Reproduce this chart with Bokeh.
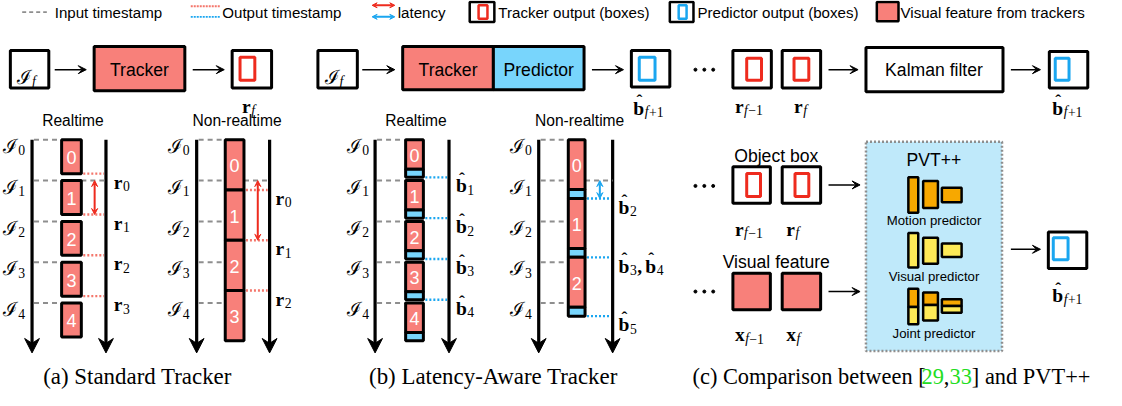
from bokeh.plotting import figure
from bokeh.models import Range1d, Arrow, VeeHead
from bokeh.core.properties import value
from bokeh.embed import file_html
from bokeh.resources import INLINE

# ---------------- data ----------------
legend_texts = ["Input timestamp", "Output timestamp", "latency",
                "Tracker output (boxes)", "Predictor output (boxes)",
                "Visual feature from trackers"]
frames = [0, 1, 2, 3, 4]
frame_names = ["0", "1", "2", "3", "4"]

# (a) standard tracker (times in frame intervals)
a_rt_start = [0, 1, 2, 3, 4]
a_rt_track = [0.83, 0.83, 0.83, 0.83, 0.83]
a_rt_out_names = [["0"], ["1"], ["2"], ["3"]]
a_nrt_start = [0, 1.23, 2.46, 3.69]
a_nrt_track = [1.23, 1.23, 1.23, 1.23]
a_nrt_out_names = [["0"], ["1"], ["2"]]

# (b) latency-aware tracker
b_rt_start = [0, 1, 2, 3, 4]
b_rt_track = [0.72, 0.72, 0.72, 0.72, 0.72]
b_rt_pred = [0.2, 0.2, 0.2, 0.2, 0.2]
b_rt_out_names = [["1"], ["2"], ["3"], ["4"]]
b_nrt_start = [0, 1.44, 2.88]
b_nrt_track = [1.22, 1.22, 1.22]
b_nrt_pred = [0.22, 0.22, 0.22]
b_nrt_out_names = [["2"], ["3", "4"], ["5"]]

# latency arrows (from, to) in frame intervals
a_rt_latency = (1.0, 1.83)
a_nrt_latency = (1.0, 2.46)
b_nrt_latency = (1.0, 1.44)

panel_titles = ["Realtime", "Non-realtime", "Realtime", "Non-realtime"]
captions = ["(a) Standard Tracker", "(b) Latency-Aware Tracker"]
caption_c = [("(c) Comparison between [", "black"), ("29", "green"), (",", "black"),
             ("33", "green"), ("] and PVT++", "black")]
predictor_names = ["Motion predictor", "Visual predictor", "Joint predictor"]

# ---------------- style ----------------
SANS = "Liberation Sans"
SERIF = "Liberation Serif"
SCRIPT = "DejaVu Serif"
K = 0.975
SALMON = "#F8807A"
LBLUE = "#78D5FC"
RED = "#EE2B1E"
BLUE = "#1AA6F0"
DOTRED = "#F4766B"
GREY = "#8E8E8E"
PVTBG = "#BFE9FA"
ORANGE = "#F7A800"
YELLOW = "#FDEA57"
GREEN = "#22DD22"

p = figure(width=1106, height=390, x_range=Range1d(0, 1122), y_range=Range1d(406, 0),
           output_backend="svg", toolbar_location=None, min_border=0,
           x_axis_location=None, y_axis_location=None)
p.grid.visible = False
p.outline_line_color = None
p.background_fill_color = "white"
p.border_fill_color = "white"


def txt(x, y, s, size, font=SANS, color="black", align="left", baseline="middle", style="normal"):
    p.text(x=[x], y=[y], text=[s], text_font=value(font), text_font_size=f"{size * K:.1f}px",
           text_color=color, text_align=align, text_baseline=baseline, text_font_style=style)


def rect(l, r, t, b, fill=None, line="black", lw=3.0, dash="solid"):
    p.quad(left=[l], right=[r], top=[t], bottom=[b], fill_color=fill,
           line_color=line, line_width=lw, line_dash=dash)


def seg(x0, y0, x1, y1, color="black", lw=2.0, dash="solid"):
    p.segment(x0=[x0], y0=[y0], x1=[x1], y1=[y1], line_color=color, line_width=lw, line_dash=dash)


def arrow(x0, y0, x1, y1, color="black", lw=1.5, size=8, both=False):
    head = VeeHead(size=size, line_color=color, fill_color=color, line_width=1)
    start = VeeHead(size=size, line_color=color, fill_color=color, line_width=1) if both else None
    p.add_layout(Arrow(end=head, start=start, x_start=x0, y_start=y0, x_end=x1, y_end=y1,
                       line_color=color, line_width=lw))


BASEW = {"r": 0.444, "b": 0.556, "x": 0.5}


def mlab(x, y, base, sub, size=20, subsize=14, hat=False):
    """bold serif base letter with subscript; (x, y) = left, baseline"""
    bw = BASEW[base] * size
    txt(x, y, base, size, SERIF, baseline="alphabetic", style="bold")
    if hat:
        txt(x + bw / 2 + 0.5, y - 8, "\u02c6", size * 0.9, SERIF, align="center", baseline="alphabetic",
            style="bold")
    sx = x + bw + 0.5
    for s in sub:
        if s == "f":
            txt(sx, y + 4, s, subsize, SERIF, baseline="alphabetic", style="italic")
            sx += 0.3 * subsize
        else:
            txt(sx, y + 4, s, subsize, SERIF, baseline="alphabetic")
            sx += 0.53 * subsize * len(s)
    return sx


def ilab(x, y, sub):
    txt(x, y, "\u2110", 20, SCRIPT, baseline="alphabetic")
    txt(x + 15, y + 4, sub, 14, SERIF, baseline="alphabetic",
        style=("italic" if sub == "f" else "normal"))


def dots(x, y):
    p.scatter(x=[x, x + 9, x + 18], y=[y, y, y], size=3, color="black")


# ---------------- legend ----------------
LY = 12
seg(22, LY, 47, LY, GREY, 1.8, "4 3")
txt(55, LY, legend_texts[0], 15.5)
seg(193, 6, 223, 6, DOTRED, 1.8, "2 1")
seg(193, 17, 223, 17, BLUE, 1.8, "2 1")
txt(225, LY, legend_texts[1], 15.5)
arrow(377, 5, 400, 5, RED, 2, 5, True)
arrow(377, 17, 400, 17, BLUE, 2, 5, True)
txt(403, LY, legend_texts[2], 15.5)
rect(476, 501, 1.5, 22.5, "white", "black", 2.5)
rect(485, 494, 5, 19, None, RED, 2.5)
txt(505, LY, legend_texts[3], 15.5)
rect(679, 703, 1.5, 22.5, "white", "black", 2.5)
rect(688, 696, 5, 19, None, BLUE, 2.5)
txt(707, LY, legend_texts[4], 15.5)
rect(889, 911, 1.5, 21.5, SALMON, "black", 2.5)
txt(913, LY, legend_texts[5], 15.5)

# ---------------- top row ----------------
TOPY = 72
# (a)
rect(10, 49, 52, 91, "white")
ilab(17, 80, "f")
arrow(55, TOPY, 87, TOPY)
rect(95, 187, 48, 94, SALMON)
txt(141, TOPY, "Tracker", 18, align="center")
arrow(195, TOPY, 227, TOPY)
rect(235, 275, 52, 91, "white")
rect(243, 258, 59, 83, None, RED, 3)
mlab(245, 110, "r", ["f"])
# (b)
rect(322, 362, 52, 91, "white")
ilab(329, 80, "f")
arrow(367, TOPY, 400, TOPY)
rect(408, 500, 48, 93, SALMON)
rect(500, 592, 48, 93, LBLUE)
txt(454, TOPY, "Tracker", 18, align="center")
txt(546, TOPY, "Predictor", 18, align="center")
arrow(600, TOPY, 632, TOPY)
rect(640, 679, 52, 90, "white")
rect(648, 664, 59, 83, None, BLUE, 3)
mlab(642, 112, "b", ["f", "+1"], hat=True)
# (c) top
dots(705, TOPY)
rect(743, 782, 52, 91, "white")
rect(757, 772, 60, 83, None, RED, 3)
rect(793, 832, 52, 91, "white")
rect(805, 820, 60, 83, None, RED, 3)
mlab(745, 110, "r", ["f", "\u22121"])
mlab(805, 110, "r", ["f"])
arrow(840, TOPY, 870, TOPY)
rect(878, 1017, 49, 95, "white")
txt(947, TOPY, "Kalman filter", 18, align="center")
arrow(1025, TOPY, 1055, TOPY)
rect(1064, 1103, 53, 91, "white")
rect(1070, 1084, 60, 83, None, BLUE, 3)
mlab(1067, 112, "b", ["f", "+1"], hat=True)

# ---------------- timelines ----------------
Y0 = 145.0
FP = 42.5
T_END = 5.22


def ty(t):
    return Y0 + FP * t


def axis_arrow(x):
    tip = ty(T_END)
    seg(x, ty(0), x, tip - 8, "black", 3.2)
    p.patch(x=[x, x - 7.5, x, x + 7.5], y=[tip, tip - 15, tip - 10, tip - 15],
            fill_color="black", line_color="black", line_width=1)


def timeline(lab_x, ax_l, box_l, box_r, ax_r, out_x, starts, track, pred, out_names,
             out_color, latency, title):
    txt((ax_l + ax_r) / 2 + 4, 125, title, 16, align="center")
    axis_arrow(ax_l)
    axis_arrow(ax_r)
    for k, name in zip(frames, frame_names):
        ilab(lab_x, ty(k) + 7, name)
        seg(ax_l + 2, ty(k), box_l, ty(k), GREY, 2, "5 4")
    # grey reference at I_1 on the right side
    if latency is not None:
        seg(box_r, ty(1), ax_r, ty(1), GREY, 2, "5 4")
    ends = []
    for i, s in enumerate(starts):
        e1 = s + track[i]
        rect(box_l, box_r, ty(s), ty(e1), SALMON)
        txt((box_l + box_r) / 2, ty((s + e1) / 2) + 1, str(i), 18.5, color="white", align="center")
        e = e1
        if pred is not None:
            e = e1 + pred[i]
            rect(box_l, box_r, ty(e1), ty(e), LBLUE)
        ends.append(e)
    for i, names in enumerate(out_names):
        yy = ty(ends[i])
        seg(box_r + 2, yy, ax_r - 2, yy, out_color, 2.4, "2 2")
        base = "r" if pred is None else "b"
        x = out_x
        for j, nm in enumerate(names):
            x = mlab(x, yy + 9, base, [nm], hat=(pred is not None))
            if j < len(names) - 1:
                txt(x, yy + 9, ",", 20, SERIF, baseline="alphabetic", style="bold")
                x += 8
    if latency is not None:
        ax = (box_r + ax_r) / 2 + 1
        c = RED if pred is None else BLUE
        arrow(ax, ty(latency[0]), ax, ty(latency[1]), c, 2, 6, True)


timeline(3, 32, 62, 82, 107, 115, a_rt_start, a_rt_track, None, a_rt_out_names, DOTRED, a_rt_latency,
         panel_titles[0])
timeline(170, 199, 228, 247, 273, 279, a_nrt_start, a_nrt_track, None, a_nrt_out_names, DOTRED,
         a_nrt_latency, panel_titles[1])
timeline(352, 380, 411, 429, 455, 462, b_rt_start, b_rt_track, b_rt_pred, b_rt_out_names, BLUE, None,
         panel_titles[2])
timeline(517, 546, 576, 593, 621, 627, b_nrt_start, b_nrt_track, b_nrt_pred, b_nrt_out_names, BLUE,
         b_nrt_latency, panel_titles[3])

# ---------------- (c) PVT++ ----------------
dots(705, 193)
dots(705, 303)
txt(787, 162, "Object box", 18, align="center")
rect(743, 781, 173, 211, "white")
rect(757, 771, 180, 204, None, RED, 3)
rect(793, 832, 173, 211, "white")
rect(806, 820, 180, 204, None, RED, 3)
mlab(745, 238, "r", ["f", "\u22121"])
mlab(797, 238, "r", ["f"])
arrow(840, 192, 872, 192)
txt(787, 272, "Visual feature", 18, align="center")
rect(743, 781, 284, 322, SALMON)
rect(793, 832, 284, 322, SALMON)
mlab(745, 348, "x", ["f", "\u22121"])
mlab(797, 348, "x", ["f"])
arrow(840, 303, 872, 303)

rect(878, 1016, 147, 365, PVTBG, GREY, 2.5, "2 2")
txt(947, 166, "PVT++", 18, align="center")

bar_x = [(921, 931), (936, 951), (955, 975)]
motion_y = [(184, 221), (188, 216), (195, 210)]
visual_y = [(242, 278), (247, 274), (253, 267)]
joint_y = [(300, 319, 337), (304, 317, 333), (311, 318, 325)]
for (l, r), (t, b) in zip(bar_x, motion_y):
    rect(l, r, t, b, ORANGE, "black", 2.5)
txt(947, 229, predictor_names[0], 13.5, align="center")
for (l, r), (t, b) in zip(bar_x, visual_y):
    rect(l, r, t, b, YELLOW, "black", 2.5)
txt(947, 287, predictor_names[1], 13.5, align="center")
for (l, r), (t, m, b) in zip(bar_x, joint_y):
    rect(l, r, t, m, ORANGE, "black", 2.5)
    rect(l, r, m, b, YELLOW, "black", 2.5)
txt(947, 347, predictor_names[2], 13.5, align="center")

arrow(1025, 259, 1055, 259)
rect(1063, 1102, 241, 279, "white")
rect(1068, 1083, 247, 270, None, BLUE, 3)
mlab(1067, 307, "b", ["f", "+1"], hat=True)

# ---------------- captions ----------------
CAP_Y = 391
txt(139, CAP_Y, captions[0], 23.5, SERIF, align="center", baseline="alphabetic")
txt(500, CAP_Y, captions[1], 23.5, SERIF, align="center", baseline="alphabetic")
widths = [10.214, 1.0, 0.25, 1.0, 5.294]
CS = 23
cx = 702
for (s, col), w in zip(caption_c, widths):
    txt(cx, CAP_Y, s, CS, SERIF, color=(GREEN if col == "green" else "black"), baseline="alphabetic")
    cx += w * CS * K * 1.014

open("out.html", "w").write(file_html(p, INLINE))
